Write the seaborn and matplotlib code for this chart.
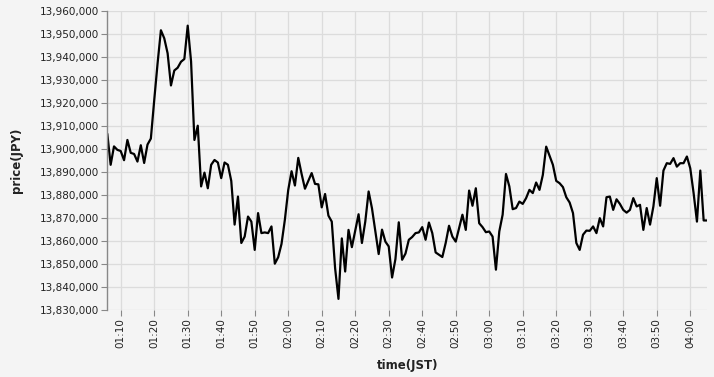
import numpy as np
import pandas as pd
import matplotlib
matplotlib.use("Agg")
import matplotlib.pyplot as plt
import matplotlib.dates as mdates
import seaborn as sns

# ---- data (JPY, thousands offset from 13,000,000), 1-minute steps from 01:06 ----
start_time = "2000-01-01 01:06"
price_k = [
    906.5, 893.0, 901.0, 899.5, 899.0, 895.0, 903.8, 898.2, 897.7, 894.4,
    901.5, 893.8, 901.8, 904.4, 921.0, 937.0, 951.5, 948.0, 941.5, 927.5,
    934.0, 935.2, 937.8, 939.0, 953.5, 938.0, 903.8, 910.0, 883.6, 889.6,
    882.8, 893.0, 895.1, 894.0, 887.2, 894.0, 893.0, 886.0, 867.0, 879.2,
    859.0, 861.8, 870.5, 868.3, 856.0, 872.0, 863.3, 863.6, 863.3, 866.2,
    850.0, 852.8, 858.6, 869.1, 882.0, 890.2, 884.0, 896.0, 889.0, 882.6,
    886.0, 889.4, 884.7, 884.5, 874.5, 880.3, 870.9, 868.3, 848.0, 834.7,
    861.0, 846.6, 864.7, 857.2, 864.3, 871.5, 859.0, 868.3, 881.4, 874.1,
    864.0, 854.2, 864.8, 859.6, 857.5, 844.0, 852.0, 868.0, 851.7, 854.4,
    860.4, 861.6, 863.3, 863.6, 865.9, 860.4, 867.9, 863.3, 854.9, 853.9,
    852.9, 859.0, 866.5, 861.8, 859.6, 865.5, 871.3, 864.7, 881.8, 875.2,
    882.8, 867.6, 865.9, 863.7, 864.0, 861.8, 847.4, 864.0, 871.3, 889.0,
    883.6, 873.7, 874.2, 877.0, 876.0, 878.5, 882.1, 880.7, 885.3, 882.1,
    888.6, 900.9, 897.0, 893.0, 886.0, 885.0, 883.3, 878.9, 876.6, 872.0,
    859.0, 856.0, 862.6, 864.4, 864.3, 866.2, 863.3, 869.8, 866.2, 878.9,
    879.2, 873.4, 878.0, 876.0, 873.4, 872.2, 873.4, 878.5, 874.9, 875.6,
    864.7, 874.2, 867.0, 874.9, 887.2, 875.2, 890.5, 893.7, 893.4, 895.9,
    892.2, 893.7, 893.7, 896.6, 891.5, 880.7, 868.3, 890.5, 868.8, 868.8,
]
price = [13_000_000 + v * 1000 for v in price_k]
times = pd.date_range(start_time, periods=len(price), freq="min")
df = pd.DataFrame({"time(JST)": times, "price(JPY)": price})

y_ticks = list(range(13_830_000, 13_960_001, 10_000))

# ---- style ----
bg = "#f4f4f4"
sns.set_theme(style="whitegrid")
plt.rcParams["font.family"] = ["DejaVu Sans"]

fig = plt.figure(figsize=(7.14, 3.77), dpi=100, facecolor=bg)
ax = fig.add_axes([107.3 / 714, 1 - 309.7 / 377, (707.0 - 107.3) / 714, (309.7 - 10.7) / 377])
ax.set_facecolor(bg)

sns.lineplot(data=df, x="time(JST)", y="price(JPY)", ax=ax, color="black", linewidth=1.6)

ax.set_xlim(times[0], times[-1])
ax.set_ylim(13_830_000, 13_960_000)
ax.set_yticks(y_ticks)
ax.yaxis.set_major_formatter(matplotlib.ticker.FuncFormatter(lambda v, p: f"{int(round(v)):,}"))
ax.xaxis.set_major_locator(mdates.MinuteLocator(byminute=range(0, 60, 10)))
ax.xaxis.set_major_formatter(mdates.DateFormatter("%H:%M"))

ax.grid(True, color="#dcdcdc", linewidth=0.9)
for s in ["top", "right", "bottom"]:
    ax.spines[s].set_visible(False)
ax.spines["left"].set_color("#888888")
ax.spines["left"].set_linewidth(1.0)

ax.tick_params(axis="both", which="major", length=4, width=0.8, color="#888888",
               labelsize=7.5, labelcolor="#222222", pad=2)
ax.tick_params(axis="x", labelrotation=90, bottom=True)
ax.tick_params(axis="y", left=True)

ax.set_xlabel("time(JST)", fontsize=8.5, fontweight="bold", color="#222222", labelpad=8)
ax.set_ylabel("price(JPY)", fontsize=8.5, fontweight="bold", color="#222222", labelpad=12)

fig.savefig("out.png", dpi=100, facecolor=bg)
